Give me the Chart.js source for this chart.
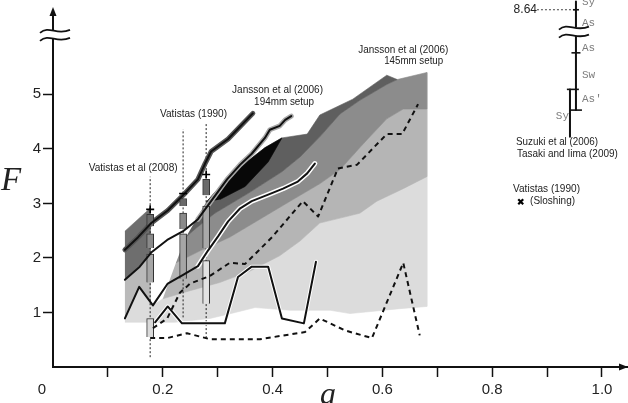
<!DOCTYPE html>
<html><head><meta charset="utf-8">
<script src="https://cdn.jsdelivr.net/npm/chart.js@4.4.1/dist/chart.umd.min.js"></script>
<style>html,body{margin:0;padding:0;background:#fff;}#wrap{width:628px;height:403px;position:relative;}</style>
</head><body><div id="wrap"><canvas id="c"></canvas></div>
<script>
// ---------------- data (a = x value, F = y value) ----------------
const xTickLabels = ['0.2','0.4','0.6','0.8','1.0'];
const yTickLabels = ['1','2','3','4','5'];

// shaded regions (polygons)
const palestA = [0.131,0.157,0.182,0.200,0.250,0.304,0.359,0.413,0.450,0.486,0.523,0.559,0.590,0.638,0.681,0.681,0.632,0.541,0.505,0.432,0.368,0.332,0.286,0.222,0.177,0.131];
const palestF = [0.89,1.47,1.13,1.25,1.40,1.55,1.76,2.04,2.31,2.64,2.73,2.82,3.04,3.27,3.49,1.11,1.07,0.98,1.04,1.04,1.09,1.00,0.89,0.82,0.82,0.82];
const lightA = [0.224,0.268,0.322,0.377,0.432,0.486,0.523,0.565,0.608,0.638,0.681,0.681,0.638,0.590,0.559,0.523,0.486,0.450,0.413,0.359,0.304,0.250,0.200];
const lightF = [1.91,2.13,2.38,2.71,3.04,3.36,3.62,4.09,4.55,4.73,4.73,3.49,3.27,3.04,2.82,2.73,2.64,2.31,2.04,1.76,1.55,1.40,1.25];
const midA = [0.242,0.259,0.295,0.355,0.417,0.450,0.486,0.523,0.559,0.608,0.627,0.681,0.681,0.638,0.608,0.565,0.523,0.486,0.432,0.377,0.322,0.268,0.224];
const midF = [2.38,2.53,2.82,3.18,3.58,3.85,4.22,4.64,4.89,5.18,5.27,5.40,4.73,4.73,4.55,4.09,3.62,3.36,3.04,2.71,2.38,2.13,1.91];
const darkA = [0.279,0.317,0.353,0.386,0.417,0.463,0.486,0.546,0.608,0.627,0.608,0.559,0.523,0.486,0.450,0.417,0.355,0.295,0.259,0.242];
const darkF = [3.02,3.45,3.76,4.02,4.20,4.27,4.62,4.91,5.35,5.27,5.18,4.89,4.64,4.22,3.85,3.58,3.18,2.82,2.53,2.38];
const blackA = [0.279,0.317,0.353,0.386,0.417,0.392,0.350,0.304];
const blackF = [3.02,3.45,3.76,4.02,4.20,3.76,3.31,3.07];
const lgDarkA = [0.131,0.177,0.177,0.131];
const lgDarkF = [2.49,2.91,2.05,1.60];
const lgLightA = [0.131,0.177,0.177,0.157,0.131];
const lgLightF = [1.60,2.05,1.22,1.47,0.89];

// boundary lines
const lineA_A = [0.131,0.155,0.179,0.209,0.237,0.264,0.277,0.288,0.319,0.364];
const lineA_F = [2.15,2.38,2.64,2.87,3.15,3.44,3.73,3.95,4.18,4.65];
const lineB_A = [0.131,0.158,0.180,0.208,0.237,0.264,0.290,0.317,0.341,0.362,0.386,0.395,0.413,0.423,0.434];
const lineB_F = [1.60,1.84,2.11,2.33,2.49,2.71,3.07,3.44,3.71,3.91,4.20,4.35,4.42,4.53,4.60];
const lineC_A = [0.131,0.157,0.182,0.209,0.237,0.264,0.282,0.301,0.319,0.341,0.362,0.392,0.419,0.446,0.463,0.477];
const lineC_F = [0.89,1.47,1.13,1.53,1.69,1.85,2.13,2.40,2.67,2.91,3.04,3.16,3.27,3.40,3.55,3.73];
const lineD_A = [0.186,0.209,0.235,0.313,0.337,0.362,0.392,0.417,0.457,0.479];
const lineD_F = [0.82,1.11,0.80,0.80,1.65,1.84,1.84,0.89,0.80,1.93];
const dashU_A = [0.182,0.208,0.231,0.250,0.286,0.322,0.350,0.399,0.455,0.483,0.519,0.554,0.608,0.636,0.665];
const dashU_F = [0.71,0.89,1.36,1.53,1.67,1.91,1.89,2.38,3.04,2.76,3.64,3.71,4.27,4.27,4.82];
const dashL_A = [0.177,0.208,0.244,0.286,0.377,0.459,0.486,0.532,0.581,0.638,0.668];
const dashL_F = [0.53,0.53,0.62,0.51,0.51,0.64,0.89,0.67,0.53,1.91,0.58];

// Vatistas measurement columns
const colA = [0.177,0.237,0.279];
const barTop = [[2.58,2.80],[2.95,3.09],[3.15,3.44]];
const barMid = [[2.18,2.44],[2.53,2.82],[2.18,2.95]];
const barLow = [[1.55,2.07],[1.62,2.44],[1.16,1.95]];
const barFoot = [[0.55,0.89]];
const markF = [2.89,3.18,3.53];
const dotLo = [0.18,0.91,0.53];
const dotHi = [3.49,4.36,4.49];

// Suzuki / Tasaki column
const suzA = 0.9526, suzLeftA = 0.9417;
const suzMainF = [6.70,4.71];
const suzLeftF = [5.09,4.22];
const suzTickA = [0.9526,0.9526,0.947,0.9526];
const suzTickF = [6.55,5.76,5.09,4.71];
const leaderA = [0.8816,0.9526];
const leaderF = [6.55,6.55];
const sloshA = [0.852], sloshF = [3.03];

// annotations
const notes = [
  ['Vatistas et al (2008)',0.146,3.64,89],
  ['Vatistas (1990)',0.256,4.64,67],
  ['Jansson et al (2006)',0.409,5.07,91],
  ['194mm setup',0.421,4.85,60],
  ['Jansson et al (2006)',0.638,5.82,90],
  ['145mm setup',0.657,5.62,59],
  ['Suzuki et al (2006)',0.918,4.13,82],
  ['Tasaki and Iima (2009)',0.937,3.91,101],
  ['Vatistas (1990)',0.899,3.27,67],
  ['(Sloshing)',0.910,3.05,45]
];
const monoNotes = [['Sy',0.9636,6.69],['As',0.9636,6.31],['As',0.9636,5.85],['Sw',0.9636,5.36],["As'",0.9636,4.91],['Sy',0.916,4.60]];

// ---------------- chart ----------------
const P = (xs, ys) => xs.map((v, i) => ({x: v, y: ys[i]}));
function region(xs, ys, color, order){
  return {type:'line', data:P(xs,ys), fill:'shape', backgroundColor:color, borderColor:color, borderWidth:0.6, pointRadius:0, order, tension:0};
}
function stroke(xs, ys, color, width, order, dash){
  return {type:'line', data:P(xs,ys), fill:false, borderColor:color, borderWidth:width, borderDash:dash||[], pointRadius:0, order, tension:0, borderJoinStyle:'round', borderCapStyle: dash ? 'butt' : 'round'};
}

const datasets = [
  region(palestA, palestF, '#dcdcdc', 20),
  region(lightA, lightF, '#b5b5b5', 19),
  region(lgLightA, lgLightF, '#bababa', 19),
  region(midA, midF, '#8c8c8c', 18),
  region(darkA, darkF, '#5f5f5f', 17),
  region(lgDarkA, lgDarkF, '#6e6e6e', 17),
  region(blackA, blackF, '#080808', 16),
  // halos
  stroke(lineA_A, lineA_F, '#555555', 5, 12),
  stroke(lineB_A.slice(5), lineB_F.slice(5), '#a8a8a8', 5, 12),
  stroke(lineC_A.slice(5), lineC_F.slice(5), '#ffffff', 5, 12),
  stroke(lineD_A, lineD_F, '#ffffff', 4, 12),
  // core lines
  stroke(lineA_A, lineA_F, '#111', 2, 5),
  stroke(lineB_A, lineB_F, '#111', 2, 5),
  stroke(lineC_A, lineC_F, '#111', 2, 5),
  stroke(lineD_A, lineD_F, '#111', 2, 5),
  stroke(dashU_A, dashU_F, '#111', 2, 5, [5,4]),
  stroke(dashL_A, dashL_F, '#111', 2, 5, [5,4]),
  // floating bars
  {type:'bar', data:colA.map((a,i)=>({x:a,y:barTop[i]})), backgroundColor:'#6a6a6a', borderColor:'#333', borderWidth:1, barThickness:7, grouped:false, order:11},
  {type:'bar', data:colA.map((a,i)=>({x:a,y:barMid[i]})), backgroundColor:['#8a8a8a','#8a8a8a','#a9a9a9'], borderColor:'#333', borderWidth:1, barThickness:7, grouped:false, order:11},
  {type:'bar', data:colA.map((a,i)=>({x:a,y:barLow[i]})), backgroundColor:['#a6a6a6','#a6a6a6','#e2e2e2'], borderColor:'#333', borderWidth:1, barThickness:7, grouped:false, order:11},
  {type:'bar', data:barFoot.map((v,i)=>({x:colA[i],y:v})), backgroundColor:'#dadada', borderColor:'#333', borderWidth:1, barThickness:7, grouped:false, order:11},
  // markers
  {type:'line', data:P(colA, markF), showLine:false, pointStyle:['cross','line','cross'], pointRadius:4, pointBorderWidth:1.6, pointBorderColor:'#000', order:1},
  {type:'line', data:P(sloshA, sloshF), showLine:false, pointStyle:'crossRot', pointRadius:3.5, pointBorderWidth:2.2, pointBorderColor:'#000', order:1},
  // Suzuki / Tasaki column
  Object.assign(stroke([suzA,suzA], suzMainF, '#111', 2, 5), {clip:false}),
  stroke([suzLeftA,suzLeftA], suzLeftF, '#111', 2, 5),
  {type:'line', data:P(suzTickA, suzTickF), showLine:false, pointStyle:'line', pointRadius:[3,4.5,6,6], pointBorderWidth:1.6, pointBorderColor:'#111', order:4, clip:false},
  Object.assign(stroke(leaderA, leaderF, '#444', 1, 6, [2,2]), {clip:false})
];
// dotted vertical guide lines
colA.forEach((a,i)=>{ datasets.push(stroke([a,a],[dotLo[i],dotHi[i]],'#222',1,15,[2,2])); });

function drawBreak(ctx, cx, cy, half){
  ctx.save();
  ctx.fillStyle = '#fff';
  ctx.fillRect(cx-half, cy-4, half*2, 8);
  ctx.strokeStyle = '#111'; ctx.lineWidth = 1.8;
  [cy-4, cy+4].forEach(y0=>{
    ctx.beginPath();
    ctx.moveTo(cx-half, y0+2);
    ctx.bezierCurveTo(cx-half*0.4, y0-6, cx+half*0.1, y0+5, cx+half, y0-1);
    ctx.stroke();
  });
  ctx.restore();
}

const deco = {
  id:'deco',
  afterDatasetsDraw(chart){
    const {ctx, scales:{x,y}, chartArea} = chart;
    const X = v => x.getPixelForValue(v), Y = v => y.getPixelForValue(v);
    ctx.save();
    // axis breaks
    drawBreak(ctx, X(0)+2, Y(6.09), 15);
    drawBreak(ctx, X(suzA)-2, Y(6.15), 15);
    // arrows
    ctx.fillStyle = '#111';
    ctx.beginPath(); ctx.moveTo(X(0), chartArea.top-4); ctx.lineTo(X(0)-3.5, chartArea.top+5); ctx.lineTo(X(0)+3.5, chartArea.top+5); ctx.closePath(); ctx.fill();
    ctx.beginPath(); ctx.moveTo(chartArea.right, Y(0)); ctx.lineTo(chartArea.right-9, Y(0)-3.5); ctx.lineTo(chartArea.right-9, Y(0)+3.5); ctx.closePath(); ctx.fill();
    // annotations
    ctx.fillStyle = '#222'; ctx.textAlign = 'center'; ctx.textBaseline = 'middle';
    ctx.font = "11px 'Liberation Sans', 'DejaVu Sans', sans-serif";
    notes.forEach(([t,a,f,w]) => ctx.fillText(t, X(a), Y(f), w));
    ctx.fillStyle = '#7d7d7d'; ctx.textAlign = 'left';
    ctx.font = "11px 'Liberation Mono', 'DejaVu Sans Mono', monospace";
    monoNotes.forEach(([t,a,f]) => ctx.fillText(t, X(a), Y(f)));
    ctx.fillStyle = '#222'; ctx.textAlign = 'right';
    ctx.font = "12px 'Liberation Sans', sans-serif";
    ctx.fillText('8.64', X(leaderA[0]), Y(leaderF[0]));
    // "0" origin label
    ctx.textAlign = 'center';
    ctx.font = "15px 'Liberation Sans', sans-serif";
    ctx.fillText('0', 42, Y(0)+23);
    // axis titles
    ctx.font = "italic 33px 'Liberation Serif', 'DejaVu Serif', serif";
    ctx.textBaseline = 'alphabetic'; ctx.textAlign = 'left';
    ctx.fillText('F', 1, 190);
    ctx.font = "italic 32px 'Liberation Serif', 'DejaVu Serif', serif";
    ctx.fillText('a', 320, 404);
    ctx.restore();
  }
};

const tickFont = {family:"'Liberation Sans', sans-serif", size:15};
new Chart(document.getElementById('c'), {
  type:'line',
  data:{datasets},
  options:{
    responsive:true, maintainAspectRatio:false, animation:false,
    layout:{padding:{top:8,left:0,right:0,bottom:0}, autoPadding:false},
    plugins:{legend:{display:false}, tooltip:{enabled:false}},
    scales:{
      x:{type:'linear', min:0, max:1.0474, offset:false,
        afterFit(s){ s.height = 36; },
        border:{display:true, color:'#111', width:2},
        grid:{offset:false, drawOnChartArea:false, drawTicks:true, tickLength:10, tickWidth:1.5,
          color: c => (c.tick && Math.round(c.tick.value*10) > 0) ? '#111' : 'rgba(0,0,0,0)'},
        ticks:{stepSize:0.1, includeBounds:false, autoSkip:false, maxRotation:0, padding:4, color:'#222', font:tickFont,
          callback:v => { const k = Math.round(v*10); return (k>0 && k%2===0) ? xTickLabels[k/2-1] : ''; }}
      },
      y:{type:'linear', min:0, max:6.527,
        afterFit(s){ s.width = 53; },
        border:{display:true, color:'#111', width:2},
        grid:{drawOnChartArea:false, drawTicks:true, tickLength:10, tickWidth:1.5,
          color: c => (c.tick && c.tick.value>=1 && c.tick.value<=5) ? '#111' : 'rgba(0,0,0,0)'},
        ticks:{stepSize:1, includeBounds:false, padding:2, color:'#222', font:tickFont,
          callback:v => (v>=1 && v<=5) ? yTickLabels[v-1] : ''}
      }
    }
  },
  plugins:[deco]
});
</script></body></html>
